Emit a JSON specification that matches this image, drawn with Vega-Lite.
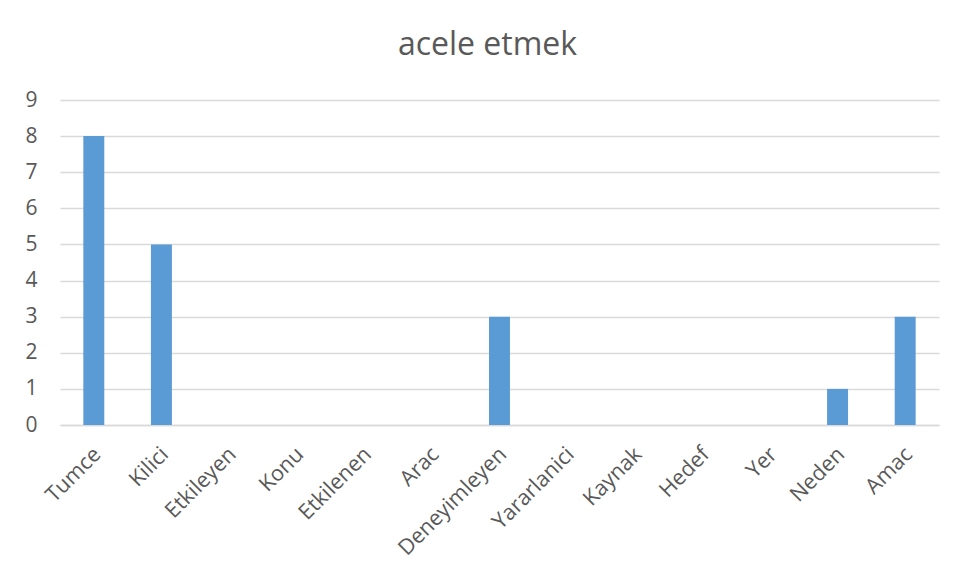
{
  "$schema": "https://vega.github.io/schema/vega-lite/v6.json",
  "width": 879,
  "height": 325,
  "autosize": {"type": "none"},
  "padding": {"left": 60, "top": 100, "right": 17, "bottom": 153},
  "background": "white",
  "title": {
    "text": "acele etmek",
    "font": "Open Sans",
    "fontSize": 32,
    "fontWeight": "normal",
    "color": "#595959",
    "anchor": "middle",
    "dx": -12,
    "offset": 27
  },
  "data": {
    "values": [
      {"rol": "Tumce", "sayi": 8},
      {"rol": "Kilici", "sayi": 5},
      {"rol": "Etkileyen", "sayi": 0},
      {"rol": "Konu", "sayi": 0},
      {"rol": "Etkilenen", "sayi": 0},
      {"rol": "Arac", "sayi": 0},
      {"rol": "Deneyimleyen", "sayi": 3},
      {"rol": "Yararlanici", "sayi": 0},
      {"rol": "Kaynak", "sayi": 0},
      {"rol": "Hedef", "sayi": 0},
      {"rol": "Yer", "sayi": 0},
      {"rol": "Neden", "sayi": 1},
      {"rol": "Amac", "sayi": 3}
    ]
  },
  "mark": {"type": "bar", "color": "#5b9bd5"},
  "encoding": {
    "x": {
      "field": "rol",
      "type": "nominal",
      "sort": null,
      "scale": {"paddingInner": 0.69, "paddingOuter": 0.345},
      "axis": {
        "title": null,
        "labelAngle": -45,
        "labelAlign": "right",
        "labelBaseline": "middle",
        "labelFont": "Open Sans",
        "labelFontSize": 21.5,
        "labelColor": "#595959",
        "labelPadding": 26,
        "labelOffset": 4,
        "ticks": false,
        "domain": true,
        "domainColor": "#d9d9d9",
        "domainWidth": 1.5,
        "grid": false
      }
    },
    "y": {
      "field": "sayi",
      "type": "quantitative",
      "scale": {"domain": [0, 9], "nice": false},
      "axis": {
        "title": null,
        "values": [0, 1, 2, 3, 4, 5, 6, 7, 8, 9],
        "labelFont": "Open Sans",
        "labelFontSize": 21,
        "labelColor": "#595959",
        "labelPadding": 23,
        "ticks": false,
        "domain": false,
        "grid": true,
        "gridColor": "#d9d9d9",
        "gridWidth": 1.5
      }
    }
  },
  "config": {
    "view": {"stroke": null}
  }
}
